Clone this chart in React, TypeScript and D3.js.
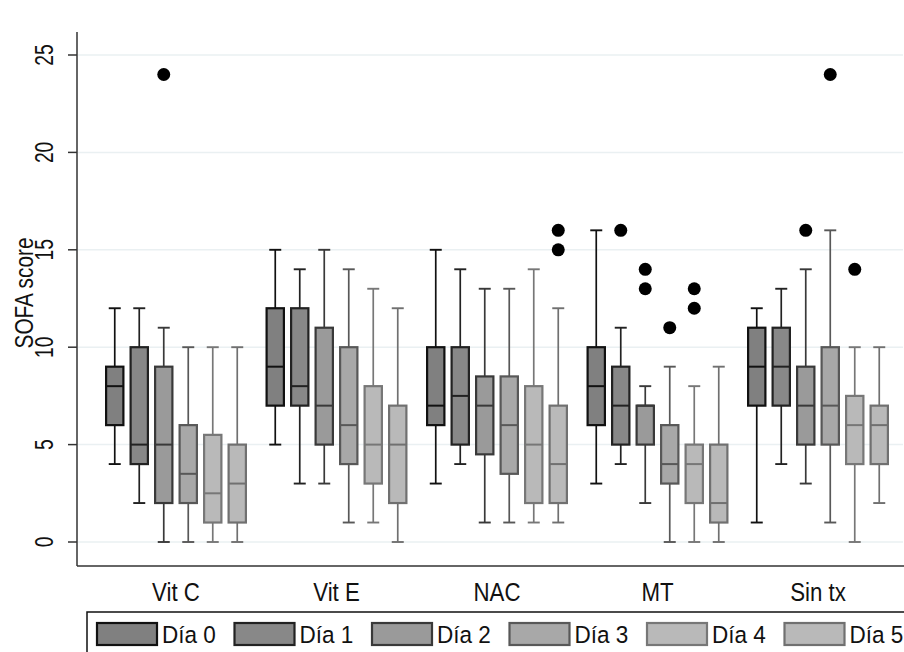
import React from "react";
import * as d3 from "d3";

const groups = ["Vit C", "Vit E", "NAC", "MT", "Sin tx"];
const days = ["Día 0", "Día 1", "Día 2", "Día 3", "Día 4", "Día 5"];
const yTicks = [0, 5, 10, 15, 20, 25];

// [whiskerLow, q1, median, q3, whiskerHigh] per group, per day
const vitC = [[4, 6, 8, 9, 12], [2, 4, 5, 10, 12], [0, 2, 5, 9, 11], [0, 2, 3.5, 6, 10], [0, 1, 2.5, 5.5, 10], [0, 1, 3, 5, 10]];
const vitE = [[5, 7, 9, 12, 15], [3, 7, 8, 12, 14], [3, 5, 7, 11, 15], [1, 4, 6, 10, 14], [1, 3, 5, 8, 13], [0, 2, 5, 7, 12]];
const nac = [[3, 6, 7, 10, 15], [4, 5, 7.5, 10, 14], [1, 4.5, 7, 8.5, 13], [1, 3.5, 6, 8.5, 13], [1, 2, 5, 8, 14], [1, 2, 4, 7, 12]];
const mt = [[3, 6, 8, 10, 16], [4, 5, 7, 9, 11], [2, 5, 7, 7, 8], [0, 3, 4, 6, 9], [0, 2, 4, 5, 8], [0, 1, 2, 5, 9]];
const sinTx = [[1, 7, 9, 11, 12], [4, 7, 9, 11, 13], [3, 5, 7, 9, 14], [1, 5, 7, 10, 16], [0, 4, 6, 7.5, 10], [2, 4, 6, 7, 10]];
const stats = [vitC, vitE, nac, mt, sinTx];

const outVitC = [[], [], [24], [], [], []];
const outVitE = [[], [], [], [], [], []];
const outNac = [[], [], [], [], [], [15, 16]];
const outMt = [[], [16], [13, 14], [11], [12, 13], []];
const outSinTx = [[], [], [16], [24], [14], []];
const outliers = [outVitC, outVitE, outNac, outMt, outSinTx];

const fills = ["#808080", "#888888", "#9a9a9a", "#a8a8a8", "#b9b9b9", "#b9b9b9"];
const strokes = ["#111111", "#222222", "#393939", "#585858", "#777777", "#707070"];

const W = 904;
const H = 652;
const FONT = "'Liberation Sans', Arial, Helvetica, sans-serif";

export default function App() {
  const y = d3.scaleLinear().domain([0, 25]).range([542, 55]);
  const xg = d3.scaleBand<string>().domain(groups).range([95.75, 898.25]).padding(0);
  const xd = d3
    .scaleBand<string>()
    .domain(days)
    .range([-73.5, 73.5])
    .paddingInner(0.294)
    .paddingOuter(0.147);
  const bw = xd.bandwidth();
  const axisX = 77;
  const axisBottom = 566;

  return (
    <svg
      width={W}
      height={H}
      style={{ position: "absolute", left: 0, top: 0, background: "#fff" }}
      fontFamily={FONT}
    >
      <rect x={0} y={0} width={W} height={H} fill="#fff" />
      {/* gridlines */}
      {yTicks.map((t) => (
        <line key={"g" + t} x1={axisX + 1} x2={903} y1={y(t)} y2={y(t)} stroke="#eaf0f2" strokeWidth={1.5} />
      ))}
      {/* boxes */}
      {groups.map((g, gi) => {
        const gc = (xg(g) as number) + xg.bandwidth() / 2;
        return (
          <g key={g}>
            {days.map((d, di) => {
              const s = stats[gi][di];
              const x0 = gc + (xd(d) as number);
              const cx = x0 + bw / 2;
              const col = strokes[di];
              return (
                <g key={d}>
                  <line x1={cx} x2={cx} y1={y(s[4])} y2={y(s[3])} stroke={col} strokeWidth={1.7} />
                  <line x1={cx} x2={cx} y1={y(s[1])} y2={y(s[0])} stroke={col} strokeWidth={1.7} />
                  <line x1={cx - 6} x2={cx + 6} y1={y(s[4])} y2={y(s[4])} stroke={col} strokeWidth={1.9} />
                  <line x1={cx - 6} x2={cx + 6} y1={y(s[0])} y2={y(s[0])} stroke={col} strokeWidth={1.9} />
                  <rect
                    x={x0}
                    y={y(s[3])}
                    width={bw}
                    height={Math.max(0.01, y(s[1]) - y(s[3]))}
                    fill={fills[di]}
                    stroke={col}
                    strokeWidth={2.2}
                  />
                  <line x1={x0} x2={x0 + bw} y1={y(s[2])} y2={y(s[2])} stroke={col} strokeWidth={2} />
                  {outliers[gi][di].map((o, oi) => (
                    <circle key={oi} cx={cx} cy={y(o)} r={6.5} fill="#000" />
                  ))}
                </g>
              );
            })}
          </g>
        );
      })}
      {/* axes */}
      <line x1={axisX} x2={axisX} y1={32} y2={axisBottom} stroke="#333" strokeWidth={1.5} />
      <line x1={axisX} x2={W} y1={axisBottom} y2={axisBottom} stroke="#333" strokeWidth={1.5} />
      {yTicks.map((t) => (
        <g key={"t" + t}>
          <line x1={68} x2={axisX} y1={y(t)} y2={y(t)} stroke="#333" strokeWidth={1.5} />
          <text
            transform={`translate(53,${y(t)}) rotate(-90) scale(0.74,1)`}
            textAnchor="middle"
            fontSize={26}
            fill="#111"
          >
            {t}
          </text>
        </g>
      ))}
      <text
        transform={`translate(33,293) rotate(-90) scale(0.8,1)`}
        textAnchor="middle"
        fontSize={26}
        fill="#111"
      >
        SOFA score
      </text>
      {groups.map((g) => (
        <text
          key={"l" + g}
          transform={`translate(${(xg(g) as number) + xg.bandwidth() / 2},601) scale(0.89,1)`}
          textAnchor="middle"
          fontSize={25}
          fill="#111"
        >
          {g}
        </text>
      ))}
      {/* legend */}
      <rect x={87} y={612} width={840} height={60} fill="#fff" stroke="#111" strokeWidth={1.5} />
      {days.map((d, di) => {
        const lx = 97 + di * 137.5;
        return (
          <g key={"k" + d}>
            <rect x={lx} y={623} width={60} height={22} fill={fills[di]} stroke={strokes[di]} strokeWidth={2.2} />
            <text
              transform={`translate(${lx + 65},643) scale(0.92,1)`}
              fontSize={24.5}
              fill="#111"
            >
              {d}
            </text>
          </g>
        );
      })}
    </svg>
  );
}
